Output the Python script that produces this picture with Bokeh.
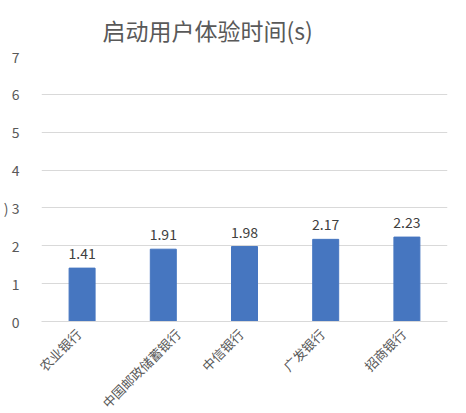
import math
from bokeh.plotting import figure
from bokeh.models import ColumnDataSource, Range1d, FixedTicker
from bokeh.core.properties import value
from bokeh.embed import file_html
from bokeh.resources import INLINE

categories = ["农业银行", "中国邮政储蓄银行", "中信银行", "广发银行", "招商银行"]
times = [1.41, 1.91, 1.98, 2.17, 2.23]
labels = ["1.41", "1.91", "1.98", "2.17", "2.23"]
y_ticks = [0, 1, 2, 3, 4, 5, 6, 7]

FONT = "Noto Sans CJK SC"
GREY = "#595959"
FRAME_W = 406
XLAB_PX = 13

n = len(categories)
centers = [i + 0.5 for i in range(n)]   # category slots on a 0..n axis
src = ColumnDataSource(dict(x=centers, cat=categories, t=times, lab=labels))

p = figure(x_range=Range1d(0, n), y_range=Range1d(0, 7),
           frame_width=FRAME_W, frame_height=265, output_backend="svg", toolbar_location=None,
           min_border_left=40, min_border_right=12, min_border_top=54, min_border_bottom=80,
           title="启动用户体验时间(s)")
p.outline_line_color = None
p.background_fill_color = "white"
p.border_fill_color = "white"

p.title.text_font = FONT
p.title.text_font_size = "23px"
p.title.text_font_style = "normal"
p.title.text_color = GREY
p.title.align = "left"
p.title.offset = 61
p.title.standoff = 20

p.vbar(x="x", top="t", width=0.32, source=src, fill_color="#4676c0", line_color="#4676c0")
p.text(x="x", y="t", text="lab", source=src, text_align="center", text_baseline="bottom",
       y_offset=-9, text_font=value(FONT), text_font_size="14px", text_color="#404040")

p.yaxis.ticker = FixedTicker(ticks=y_ticks)
p.yaxis.major_label_overrides = {3: ") 3"}
p.yaxis.axis_line_color = None
p.yaxis.major_tick_line_color = None
p.yaxis.minor_tick_line_color = None
p.yaxis.major_label_text_font = FONT
p.yaxis.major_label_text_font_size = "14px"
p.yaxis.major_label_text_color = GREY
p.yaxis.major_label_standoff = 16

# rotated category labels placed like the original (label midpoint ~22px left of the bar)
unit_px = FRAME_W / n
tick_pos = []
for cx, c in zip(centers, categories):
    half_run = len(c) * XLAB_PX * math.cos(math.pi / 4) / 2
    tick_pos.append(round(cx + (half_run - 22) / unit_px, 4))
p.xaxis.ticker = FixedTicker(ticks=tick_pos)
p.xaxis.major_label_overrides = {t: c for t, c in zip(tick_pos, categories)}
p.xaxis.axis_line_color = "#d9d9d9"
p.xaxis.major_tick_line_color = None
p.xaxis.minor_tick_line_color = None
p.xaxis.major_label_orientation = math.pi / 4
p.xaxis.major_label_text_font = FONT
p.xaxis.major_label_text_font_size = f"{XLAB_PX}px"
p.xaxis.major_label_text_color = GREY
p.xaxis.major_label_standoff = 4

p.xgrid.grid_line_color = None
p.ygrid.grid_line_color = "#d9d9d9"
p.ygrid.grid_line_width = 1

open("out.html", "w").write(file_html(p, INLINE))
